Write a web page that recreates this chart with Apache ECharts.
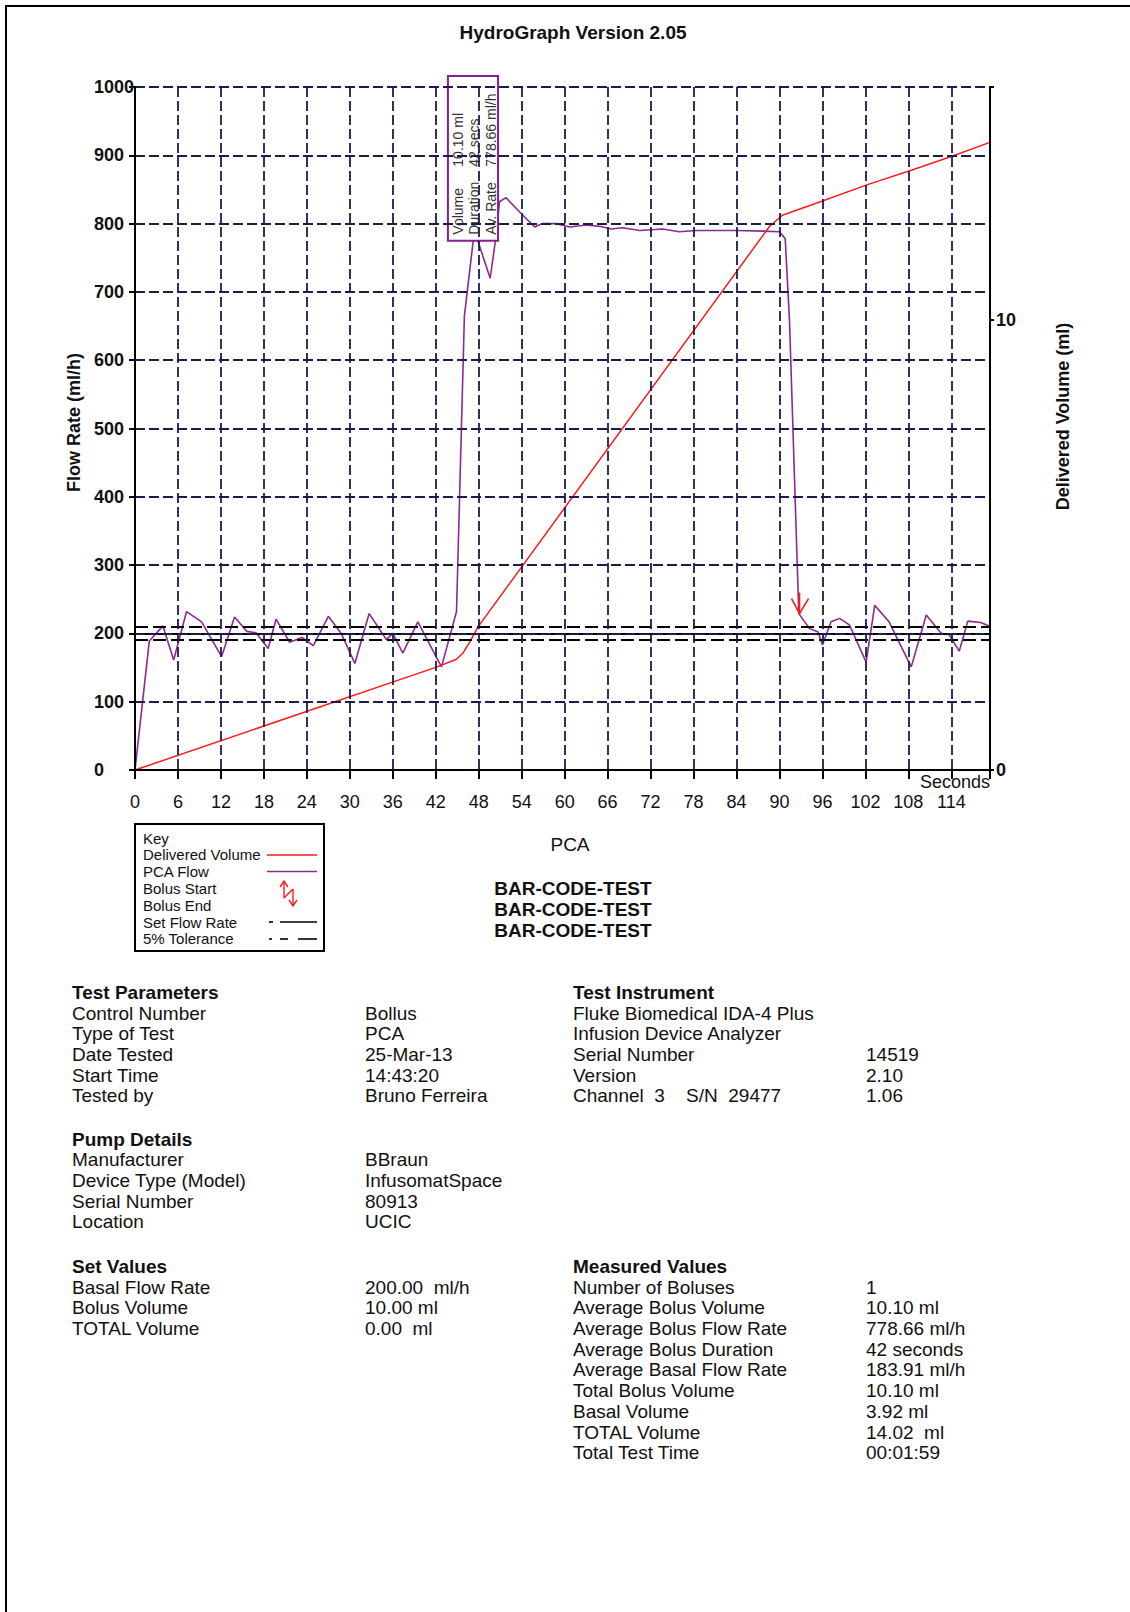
<!DOCTYPE html>
<html>
<head>
<meta charset="utf-8">
<title>HydroGraph Version 2.05</title>
<script src="https://cdn.jsdelivr.net/npm/echarts@6/dist/echarts.min.js"></script>
<style>
  body { margin: 0; background: #fff; }
  #page { position: relative; width: 1130px; height: 1612px; overflow: hidden; background: #fff;
          font-family: 'Liberation Sans', Arial, sans-serif; color: #111; }
  #frame { position: absolute; left: 5px; top: 5px; width: 2000px; height: 3000px;
           border-left: 2px solid #000; border-top: 2px solid #000; }
  #chart { position: absolute; left: 0; top: 0; width: 1130px; height: 1000px; }
  .block { position: absolute; font-size: 19px; line-height: 20.7px; white-space: pre; }
  .block .head { font-weight: bold; height: 20.7px; }
  .row { position: relative; height: 20.7px; }
  .row span { position: absolute; top: 0; }
  .center { position: absolute; width: 300px; text-align: center; font-size: 19px; line-height: 21px; }
</style>
</head>
<body>
<div id="page">
  <div id="frame"></div>
  <div id="chart"></div>
  <div id="info"></div>
</div>
<script>
// PCA flow, [seconds, ml/h]
const pcaFlow = [
  [0, 0], [2.0, 189], [3.9, 211], [5.4, 161], [7.2, 232], [9.3, 217], [12.1, 166], [13.9, 224],
  [15.6, 203], [16.9, 201], [18.6, 178], [19.7, 221], [21.6, 187], [23.3, 194], [24.9, 182],
  [27.0, 225], [28.8, 200], [30.7, 156], [32.7, 229], [35.1, 191], [36.0, 200], [37.4, 171],
  [39.5, 217], [42.8, 151], [44.9, 232], [46.0, 665], [47.4, 790], [49.6, 720], [50.4, 780],
  [50.9, 832], [51.8, 838], [54.0, 814], [55.8, 795], [56.9, 800], [58.8, 800], [60.7, 795],
  [63.0, 798], [64.9, 796], [66.5, 792], [68.1, 794], [70.5, 790], [73.7, 792], [76.0, 788],
  [78.4, 790], [81.6, 790], [84.0, 790], [87.7, 789], [90.0, 788], [90.8, 778], [91.4, 658],
  [92.7, 229], [94.2, 207], [95.4, 202], [96.0, 183], [97.2, 217], [98.4, 222], [99.8, 212],
  [102.1, 158], [103.3, 241], [105.3, 217], [108.4, 151], [110.5, 227], [112.6, 200], [113.7, 198],
  [115.1, 174], [116.3, 218], [118.1, 216], [119.4, 210]
];

// delivered volume, [seconds, ml]
const deliveredVolume = [
  [0, 0], [42.0, 2.28], [44.9, 2.46], [45.8, 2.6], [46.8, 2.86], [47.9, 3.18], [88.6, 12.08],
  [90.4, 12.33], [95.9, 12.64], [102.3, 13.01], [108.2, 13.32], [114.1, 13.64], [119.4, 13.95]
];

const setFlowRate = 200;
const tolerance = [190, 210];
const bolusEnd = [[92.8, 229]];
// bolus summary box: [from s, bottom ml/h, to s, top ml/h]
const bolusBox = [[43.7, 775, 50.7, 1016]];
const bolusSummary = [['Volume', '10.10 ml'], ['Duration', '42 secs'], ['Av. Rate', '778.66 ml/h']];

const rightTickLabels = [0, 10];
const keyLabels = ['Key', 'Delivered Volume', 'PCA Flow', 'Bolus Start', 'Bolus End', 'Set Flow Rate', '5% Tolerance'];
const barCodes = ['BAR-CODE-TEST', 'BAR-CODE-TEST', 'BAR-CODE-TEST'];

const testParameters = [
  ['Control Number', 'Bollus'], ['Type of Test', 'PCA'], ['Date Tested', '25-Mar-13'],
  ['Start Time', '14:43:20'], ['Tested by', 'Bruno Ferreira']
];
const pumpDetails = [
  ['Manufacturer', 'BBraun'], ['Device Type (Model)', 'InfusomatSpace'],
  ['Serial Number', '80913'], ['Location', 'UCIC']
];
const setValues = [
  ['Basal Flow Rate', '200.00  ml/h'], ['Bolus Volume', '10.00 ml'], ['TOTAL Volume', '0.00  ml']
];
const testInstrument = [
  ['Fluke Biomedical IDA-4 Plus', ''], ['Infusion Device Analyzer', ''], ['Serial Number', '14519'],
  ['Version', '2.10'], ['Channel  3    S/N  29477', '1.06']
];
const measuredValues = [
  ['Number of Boluses', '1'], ['Average Bolus Volume', '10.10 ml'], ['Average Bolus Flow Rate', '778.66 ml/h'],
  ['Average Bolus Duration', '42 seconds'], ['Average Basal Flow Rate', '183.91 ml/h'],
  ['Total Bolus Volume', '10.10 ml'], ['Basal Volume', '3.92 ml'], ['TOTAL Volume', '14.02  ml'],
  ['Total Test Time', '00:01:59']
];

const FONT = "'Liberation Sans', Arial, sans-serif";
const GRID_COLOR = '#1c1c4c';
const PURPLE = '#8b2a8f';
const RED = '#ff1a1a';

const chart = echarts.init(document.getElementById('chart'), null, { renderer: 'svg' });

// key box contents
const keyGraphic = [
  { type: 'rect', shape: { x: 135, y: 824, width: 189, height: 127 }, style: { fill: '#fff', stroke: '#000', lineWidth: 2 } }
];
keyLabels.forEach((t, i) => {
  keyGraphic.push({
    type: 'text', x: 143, y: 838 + i * 16.8,
    style: { text: t, font: '15px ' + FONT, fill: '#111', align: 'left', verticalAlign: 'middle' }
  });
});
const ln = (x1, y1, x2, y2, stroke, w) => ({ type: 'line', shape: { x1, y1, x2, y2 }, style: { stroke, lineWidth: w || 1.6 } });
keyGraphic.push(
  ln(267, 855, 317, 855, RED),
  ln(267, 871.5, 317, 871.5, PURPLE),
  ln(284, 881, 284, 898, RED, 1.4),
  { type: 'polyline', shape: { points: [[280, 887], [284, 881], [288, 887]] }, style: { stroke: RED, lineWidth: 1.4, fill: null } },
  ln(284, 898, 293, 889, RED, 1.4),
  ln(293, 889, 293, 906, RED, 1.4),
  { type: 'polyline', shape: { points: [[289, 900], [293, 906], [297, 900]] }, style: { stroke: RED, lineWidth: 1.4, fill: null } },
  ln(269, 922, 273, 922, '#000'),
  ln(280, 922, 317, 922, '#000'),
  ln(269, 939, 272, 939, '#000'),
  ln(280, 939, 288, 939, '#000'),
  ln(298, 939, 317, 939, '#000')
);

const option = {
  animation: false,
  title: {
    text: 'HydroGraph Version 2.05',
    left: 573, top: 23, padding: 0, textAlign: 'center',
    textStyle: { fontFamily: FONT, fontSize: 19, fontWeight: 'bold', color: '#111' }
  },
  grid: { left: 135, top: 87, width: 855, height: 683 },
  xAxis: {
    type: 'value', min: 0, max: 119.4, interval: 6, z: 10,
    name: 'Seconds', nameLocation: 'end', nameGap: 0,
    nameTextStyle: { fontFamily: FONT, fontSize: 18, color: '#111', align: 'right', verticalAlign: 'top', padding: [3, 0, 0, 0] },
    axisLine: { lineStyle: { color: '#000', width: 2 } },
    axisTick: { length: 9, lineStyle: { color: '#000', width: 2 } },
    axisLabel: {
      margin: 23, fontFamily: FONT, fontSize: 18, color: '#111',
      formatter: v => (v % 6 === 0 ? String(v) : '')
    },
    splitLine: { lineStyle: { color: GRID_COLOR, width: 1.8, type: [10, 4] } }
  },
  yAxis: [
    {
      type: 'value', min: 0, max: 1000, interval: 100, z: 10,
      name: 'Flow Rate (ml/h)', nameLocation: 'middle', nameGap: 44, nameRotate: 90,
      nameTextStyle: { fontFamily: FONT, fontSize: 18, fontWeight: 'bold', color: '#111', padding: [0, 0, 0, 12] },
      axisLine: { show: true, lineStyle: { color: '#000', width: 2 } },
      axisTick: { show: true, length: 6, lineStyle: { color: '#000', width: 2 } },
      axisLabel: {
        align: 'left', margin: 41, fontFamily: FONT, fontSize: 18, fontWeight: 'bold', color: '#111',
        formatter: v => String(v)
      },
      splitLine: { lineStyle: { color: GRID_COLOR, width: 1.8, type: [10, 4] } }
    },
    {
      type: 'value', min: 0, max: 15.18, interval: 10, z: 10, position: 'right',
      name: 'Delivered Volume (ml)', nameLocation: 'middle', nameGap: 64, nameRotate: 90,
      nameTextStyle: { fontFamily: FONT, fontSize: 18, fontWeight: 'bold', color: '#111', padding: [0, 0, 0, 24] },
      axisLine: { show: true, lineStyle: { color: '#000', width: 2 } },
      axisTick: { show: true, length: 4, lineStyle: { color: '#000', width: 2 } },
      axisLabel: {
        margin: 6, fontFamily: FONT, fontSize: 18, fontWeight: 'bold', color: '#111',
        formatter: v => (rightTickLabels.includes(v) ? String(v) : '')
      },
      splitLine: { show: false }
    }
  ],
  series: [
    {
      name: 'PCA Flow', type: 'line', yAxisIndex: 0, data: pcaFlow, z: 3,
      showSymbol: false, lineStyle: { color: PURPLE, width: 1.6 }, itemStyle: { color: PURPLE },
      markLine: {
        silent: true, symbol: 'none', label: { show: false },
        data: [
          { yAxis: setFlowRate, lineStyle: { color: '#000', width: 1.8, type: 'solid' } },
          { yAxis: tolerance[0], lineStyle: { color: '#000', width: 1.8, type: [13, 5] } },
          { yAxis: tolerance[1], lineStyle: { color: '#000', width: 1.8, type: [13, 5] } }
        ]
      }
    },
    {
      name: 'Delivered Volume', type: 'line', yAxisIndex: 1, data: deliveredVolume, z: 3,
      showSymbol: false, lineStyle: { color: RED, width: 1.5 }, itemStyle: { color: RED }
    },
    {
      name: 'Bolus box', type: 'custom', yAxisIndex: 0, data: bolusBox, z: 5, clip: false, silent: true,
      renderItem: (params, api) => {
        const a = api.coord([api.value(0), api.value(1)]);
        const b = api.coord([api.value(2), api.value(3)]);
        const children = [{
          type: 'rect', shape: { x: a[0], y: b[1], width: b[0] - a[0], height: a[1] - b[1] },
          style: { fill: '#fff', stroke: '#8b1e8f', lineWidth: 2 }
        }];
        bolusSummary.forEach((s, i) => {
          const cx = a[0] + 10 + i * 16.5;
          children.push(
            { type: 'text', x: cx, y: a[1] - 6, rotation: Math.PI / 2,
              style: { text: s[0], font: '14px ' + FONT, fill: '#333', align: 'left', verticalAlign: 'middle' } },
            { type: 'text', x: cx, y: a[1] - 74, rotation: Math.PI / 2,
              style: { text: s[1], font: '14px ' + FONT, fill: '#333', align: 'left', verticalAlign: 'middle' } }
          );
        });
        return { type: 'group', children };
      }
    },
    {
      name: 'Bolus End', type: 'custom', yAxisIndex: 0, data: bolusEnd, z: 6, silent: true,
      renderItem: (params, api) => {
        const p = api.coord([api.value(0), api.value(1)]);
        return {
          type: 'group', children: [
            { type: 'line', shape: { x1: p[0], y1: p[1] - 21, x2: p[0], y2: p[1] }, style: { stroke: RED, lineWidth: 1.6 } },
            { type: 'polyline', shape: { points: [[p[0] - 8, p[1] - 15], [p[0], p[1]], [p[0] + 9, p[1] - 15]] },
              style: { stroke: RED, lineWidth: 1.6, fill: null } }
          ]
        };
      }
    }
  ],
  graphic: keyGraphic
};

chart.setOption(option);

// text tables below the chart
const info = document.getElementById('info');
function addBlock(left, top, head, rows) {
  const d = document.createElement('div');
  d.className = 'block';
  d.style.left = left + 'px';
  d.style.top = top + 'px';
  let html = '<div class="head">' + head + '</div>';
  rows.forEach(r => {
    html += '<div class="row"><span style="left:0">' + r[0] + '</span><span style="left:293px">' + r[1] + '</span></div>';
  });
  d.innerHTML = html;
  info.appendChild(d);
}
addBlock(72, 983, 'Test Parameters', testParameters);
addBlock(72, 1129.5, 'Pump Details', pumpDetails);
addBlock(72, 1257, 'Set Values', setValues);
addBlock(573, 983, 'Test Instrument', testInstrument);
addBlock(573, 1257, 'Measured Values', measuredValues);

function addCenter(cx, cy, text, bold) {
  const d = document.createElement('div');
  d.className = 'center';
  d.style.left = (cx - 150) + 'px';
  d.style.top = (cy - 10.5) + 'px';
  if (bold) d.style.fontWeight = 'bold';
  d.textContent = text;
  info.appendChild(d);
}
addCenter(570, 844, 'PCA', false);
barCodes.forEach((t, i) => addCenter(573, 888 + i * 21, t, true));
</script>
</body>
</html>
